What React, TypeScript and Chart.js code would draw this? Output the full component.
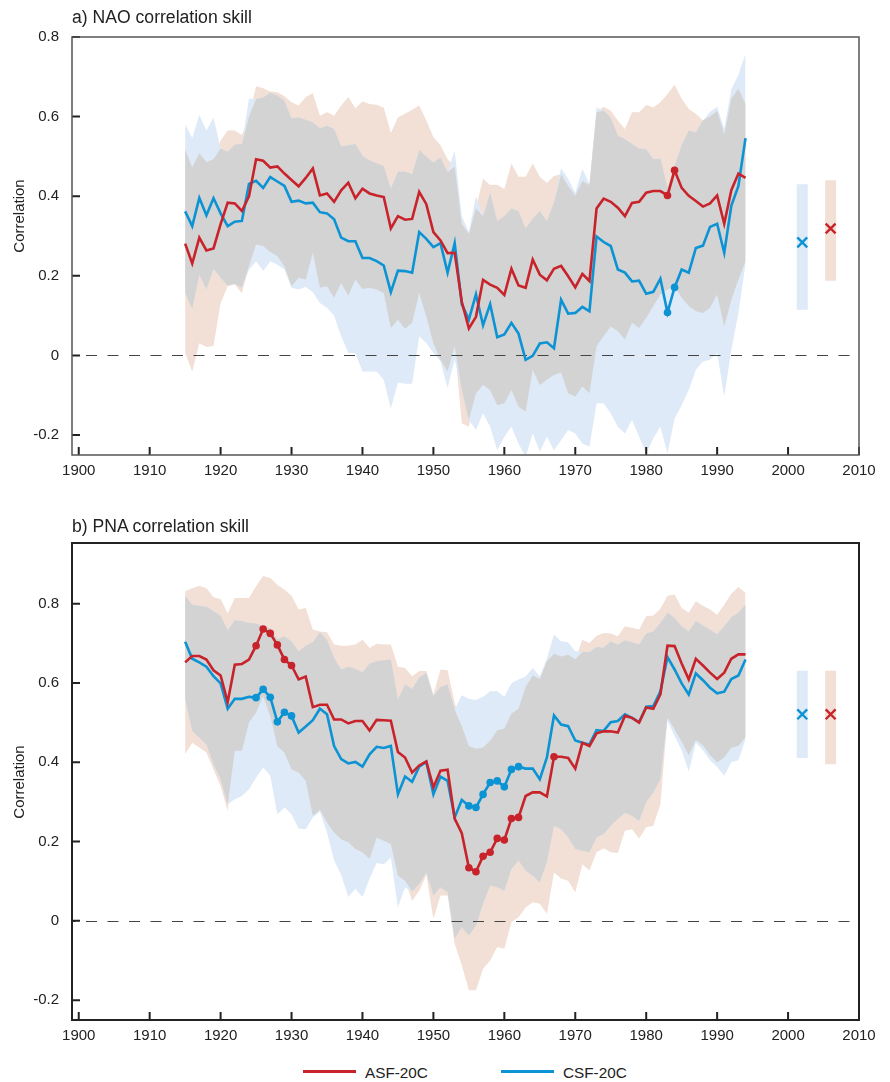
import React, { useEffect, useRef } from 'react';
import { Chart, registerables } from 'chart.js';

Chart.register(...registerables);

const FONT = '"Liberation Sans", Arial, Helvetica, sans-serif';
Chart.defaults.font.family = FONT;

// ---------------- DATA ----------------
const years = [
  1915, 1916, 1917, 1918, 1919, 1920, 1921, 1922, 1923, 1924,
  1925, 1926, 1927, 1928, 1929, 1930, 1931, 1932, 1933, 1934,
  1935, 1936, 1937, 1938, 1939, 1940, 1941, 1942, 1943, 1944,
  1945, 1946, 1947, 1948, 1949, 1950, 1951, 1952, 1953, 1954,
  1955, 1956, 1957, 1958, 1959, 1960, 1961, 1962, 1963, 1964,
  1965, 1966, 1967, 1968, 1969, 1970, 1971, 1972, 1973, 1974,
  1975, 1976, 1977, 1978, 1979, 1980, 1981, 1982, 1983, 1984,
  1985, 1986, 1987, 1988, 1989, 1990, 1991, 1992, 1993, 1994,
];

const xTicks = [1900, 1910, 1920, 1930, 1940, 1950, 1960, 1970, 1980, 1990, 2000, 2010];
const yTicks = [-0.2, 0, 0.2, 0.4, 0.6, 0.8];

// a) NAO
const naoAsf = [
  0.281, 0.231, 0.296, 0.264, 0.269, 0.330, 0.384, 0.382, 0.363, 0.400,
  0.493, 0.489, 0.472, 0.475, 0.457, 0.441, 0.425, 0.446, 0.470, 0.402,
  0.407, 0.386, 0.415, 0.434, 0.395, 0.419, 0.407, 0.402, 0.398, 0.319,
  0.350, 0.341, 0.343, 0.411, 0.380, 0.310, 0.289, 0.257, 0.258, 0.135,
  0.068, 0.097, 0.190, 0.178, 0.170, 0.152, 0.218, 0.176, 0.170, 0.241,
  0.203, 0.189, 0.218, 0.225, 0.199, 0.171, 0.205, 0.187, 0.369, 0.394,
  0.386, 0.371, 0.350, 0.383, 0.386, 0.409, 0.413, 0.413, 0.402, 0.465,
  0.421, 0.401, 0.388, 0.374, 0.382, 0.402, 0.331, 0.415, 0.457, 0.446,
];
const naoCsf = [
  0.362, 0.325, 0.396, 0.352, 0.395, 0.357, 0.325, 0.336, 0.338, 0.431,
  0.439, 0.421, 0.448, 0.437, 0.426, 0.386, 0.389, 0.382, 0.384, 0.360,
  0.357, 0.342, 0.296, 0.287, 0.287, 0.245, 0.245, 0.237, 0.226, 0.159,
  0.213, 0.212, 0.208, 0.310, 0.293, 0.272, 0.282, 0.208, 0.282, 0.129,
  0.090, 0.154, 0.076, 0.129, 0.046, 0.053, 0.082, 0.055, -0.011, -0.001,
  0.030, 0.033, 0.018, 0.140, 0.105, 0.107, 0.122, 0.111, 0.299, 0.285,
  0.275, 0.216, 0.208, 0.186, 0.188, 0.155, 0.160, 0.193, 0.108, 0.171,
  0.216, 0.208, 0.270, 0.276, 0.323, 0.331, 0.258, 0.376, 0.426, 0.546,
];
const naoAsfUpper = [
  0.518, 0.472, 0.508, 0.486, 0.493, 0.540, 0.565, 0.565, 0.554, 0.600,
  0.676, 0.671, 0.663, 0.661, 0.651, 0.636, 0.628, 0.649, 0.659, 0.602,
  0.611, 0.602, 0.628, 0.649, 0.621, 0.638, 0.632, 0.630, 0.622, 0.559,
  0.598, 0.607, 0.617, 0.628, 0.590, 0.548, 0.528, 0.493, 0.475, 0.330,
  0.305, 0.370, 0.444, 0.428, 0.429, 0.418, 0.482, 0.449, 0.449, 0.482,
  0.449, 0.433, 0.451, 0.455, 0.426, 0.401, 0.438, 0.428, 0.611, 0.625,
  0.615, 0.590, 0.569, 0.611, 0.611, 0.629, 0.623, 0.636, 0.657, 0.680,
  0.645, 0.619, 0.607, 0.590, 0.600, 0.615, 0.555, 0.645, 0.670, 0.632,
];
const naoAsfLower = [
  0.006, -0.040, 0.031, 0.021, 0.024, 0.132, 0.174, 0.178, 0.156, 0.224,
  0.279, 0.275, 0.260, 0.250, 0.224, 0.174, 0.195, 0.191, 0.258, 0.170,
  0.174, 0.145, 0.182, 0.150, 0.191, 0.167, 0.170, 0.166, 0.157, 0.069,
  0.090, 0.067, 0.082, 0.157, 0.098, 0.031, -0.011, -0.040, 0.023, -0.170,
  -0.179, -0.095, -0.074, -0.087, -0.125, -0.120, -0.087, -0.129, -0.141, -0.036,
  -0.074, -0.061, -0.049, -0.043, -0.095, -0.103, -0.078, -0.095, 0.023, 0.048,
  0.073, 0.061, 0.040, 0.082, 0.069, 0.094, 0.124, 0.153, 0.166, 0.174,
  0.145, 0.124, 0.111, 0.107, 0.120, 0.153, 0.073, 0.140, 0.191, 0.236,
];
const naoCsfUpper = [
  0.581, 0.546, 0.604, 0.565, 0.598, 0.520, 0.512, 0.530, 0.531, 0.645,
  0.644, 0.648, 0.660, 0.653, 0.640, 0.596, 0.598, 0.592, 0.586, 0.571,
  0.577, 0.569, 0.525, 0.528, 0.531, 0.502, 0.490, 0.483, 0.476, 0.419,
  0.462, 0.462, 0.455, 0.516, 0.499, 0.485, 0.497, 0.460, 0.514, 0.350,
  0.310, 0.400, 0.350, 0.409, 0.338, 0.350, 0.370, 0.363, 0.319, 0.344,
  0.363, 0.338, 0.384, 0.470, 0.443, 0.409, 0.469, 0.430, 0.623, 0.615,
  0.598, 0.552, 0.544, 0.531, 0.520, 0.518, 0.493, 0.495, 0.422, 0.476,
  0.529, 0.565, 0.560, 0.590, 0.612, 0.625, 0.570, 0.668, 0.705, 0.758,
];
const naoCsfLower = [
  0.157, 0.117, 0.203, 0.166, 0.218, 0.195, 0.176, 0.180, 0.170, 0.215,
  0.237, 0.212, 0.237, 0.228, 0.216, 0.170, 0.166, 0.172, 0.159, 0.132,
  0.120, 0.100, 0.048, 0.006, 0.006, -0.040, -0.040, -0.040, -0.061, -0.133,
  -0.068, -0.071, -0.071, 0.048, 0.031, 0.006, -0.015, -0.082, -0.010, -0.087,
  -0.162, -0.187, -0.145, -0.179, -0.238, -0.204, -0.179, -0.221, -0.255, -0.196,
  -0.242, -0.204, -0.238, -0.213, -0.187, -0.196, -0.221, -0.229, -0.120, -0.120,
  -0.145, -0.179, -0.196, -0.162, -0.204, -0.246, -0.208, -0.179, -0.246, -0.158,
  -0.125, -0.087, -0.036, -0.015, -0.011, 0.006, -0.103, 0.014, 0.107, 0.230,
];
const naoAsfSignificant = [1983, 1984];
const naoCsfSignificant = [1983, 1984];

// b) PNA
const pnaAsf = [
  0.652, 0.668, 0.668, 0.659, 0.632, 0.619, 0.552, 0.646, 0.648, 0.659,
  0.694, 0.736, 0.725, 0.696, 0.659, 0.644, 0.609, 0.616, 0.539, 0.545,
  0.545, 0.508, 0.508, 0.498, 0.504, 0.504, 0.480, 0.507, 0.506, 0.505,
  0.426, 0.412, 0.374, 0.392, 0.402, 0.337, 0.379, 0.381, 0.258, 0.221,
  0.134, 0.124, 0.163, 0.173, 0.208, 0.204, 0.258, 0.261, 0.315, 0.324,
  0.324, 0.314, 0.414, 0.414, 0.411, 0.384, 0.449, 0.441, 0.473, 0.478,
  0.478, 0.475, 0.517, 0.512, 0.500, 0.538, 0.535, 0.571, 0.694, 0.693,
  0.649, 0.609, 0.661, 0.644, 0.626, 0.610, 0.626, 0.661, 0.672, 0.672,
];
const pnaCsf = [
  0.704, 0.661, 0.652, 0.641, 0.617, 0.599, 0.535, 0.560, 0.560, 0.565,
  0.563, 0.584, 0.564, 0.502, 0.526, 0.517, 0.475, 0.490, 0.506, 0.535,
  0.521, 0.441, 0.408, 0.397, 0.401, 0.389, 0.420, 0.439, 0.436, 0.441,
  0.319, 0.364, 0.351, 0.389, 0.401, 0.319, 0.364, 0.353, 0.261, 0.305,
  0.290, 0.286, 0.319, 0.349, 0.353, 0.338, 0.382, 0.389, 0.384, 0.384,
  0.357, 0.412, 0.518, 0.495, 0.491, 0.455, 0.449, 0.445, 0.481, 0.479,
  0.501, 0.504, 0.521, 0.512, 0.501, 0.540, 0.542, 0.579, 0.665, 0.634,
  0.599, 0.571, 0.624, 0.607, 0.588, 0.574, 0.578, 0.610, 0.619, 0.659,
];
const pnaAsfUpper = [
  0.831, 0.839, 0.845, 0.839, 0.816, 0.812, 0.775, 0.814, 0.814, 0.814,
  0.844, 0.870, 0.865, 0.848, 0.835, 0.820, 0.785, 0.789, 0.735, 0.730,
  0.728, 0.697, 0.694, 0.694, 0.697, 0.709, 0.688, 0.699, 0.697, 0.697,
  0.641, 0.638, 0.617, 0.630, 0.630, 0.570, 0.634, 0.632, 0.550, 0.491,
  0.441, 0.434, 0.437, 0.454, 0.481, 0.485, 0.523, 0.535, 0.590, 0.619,
  0.610, 0.655, 0.674, 0.667, 0.671, 0.660, 0.709, 0.701, 0.719, 0.726,
  0.725, 0.718, 0.743, 0.739, 0.735, 0.768, 0.770, 0.787, 0.820, 0.823,
  0.789, 0.777, 0.806, 0.795, 0.785, 0.772, 0.797, 0.825, 0.842, 0.827,
];
const pnaAsfLower = [
  0.420, 0.449, 0.437, 0.424, 0.382, 0.340, 0.278, 0.429, 0.429, 0.500,
  0.525, 0.567, 0.517, 0.441, 0.424, 0.382, 0.374, 0.353, 0.265, 0.280,
  0.248, 0.223, 0.206, 0.198, 0.181, 0.173, 0.156, 0.210, 0.202, 0.194,
  0.114, 0.101, 0.051, 0.076, 0.116, 0.005, 0.064, 0.064, -0.058, -0.112,
  -0.175, -0.175, -0.121, -0.100, -0.066, -0.070, -0.003, 0.009, 0.034, 0.047,
  0.043, 0.018, 0.122, 0.107, 0.101, 0.072, 0.143, 0.127, 0.173, 0.183,
  0.173, 0.171, 0.227, 0.231, 0.208, 0.236, 0.240, 0.294, 0.512, 0.483,
  0.452, 0.418, 0.456, 0.443, 0.418, 0.400, 0.412, 0.437, 0.441, 0.463,
];
const pnaCsfUpper = [
  0.820, 0.797, 0.795, 0.792, 0.781, 0.770, 0.733, 0.758, 0.756, 0.751,
  0.750, 0.743, 0.738, 0.711, 0.718, 0.705, 0.680, 0.694, 0.703, 0.728,
  0.709, 0.663, 0.634, 0.641, 0.636, 0.627, 0.649, 0.655, 0.657, 0.659,
  0.558, 0.596, 0.585, 0.613, 0.626, 0.567, 0.590, 0.596, 0.533, 0.569,
  0.560, 0.557, 0.565, 0.579, 0.579, 0.565, 0.599, 0.609, 0.616, 0.638,
  0.616, 0.662, 0.722, 0.705, 0.703, 0.680, 0.678, 0.678, 0.691, 0.689,
  0.705, 0.697, 0.708, 0.703, 0.697, 0.725, 0.730, 0.751, 0.778, 0.764,
  0.743, 0.730, 0.756, 0.745, 0.735, 0.722, 0.743, 0.766, 0.778, 0.797,
];
const pnaCsfLower = [
  0.558, 0.479, 0.462, 0.445, 0.395, 0.357, 0.294, 0.307, 0.315, 0.332,
  0.361, 0.387, 0.366, 0.269, 0.286, 0.269, 0.233, 0.231, 0.261, 0.275,
  0.223, 0.152, 0.116, 0.060, 0.081, 0.060, 0.106, 0.146, 0.143, 0.160,
  0.034, 0.085, 0.074, 0.093, 0.122, 0.064, 0.085, 0.072, -0.045, -0.016,
  -0.037, -0.012, 0.043, 0.089, 0.085, 0.076, 0.131, 0.152, 0.127, 0.114,
  0.097, 0.148, 0.240, 0.231, 0.210, 0.181, 0.177, 0.173, 0.210, 0.219,
  0.240, 0.257, 0.273, 0.265, 0.252, 0.299, 0.324, 0.357, 0.505, 0.466,
  0.430, 0.376, 0.449, 0.430, 0.405, 0.388, 0.366, 0.400, 0.405, 0.458,
];
const pnaAsfSignificant = [1925, 1926, 1927, 1928, 1929, 1930, 1955, 1956, 1957, 1958, 1959, 1960, 1961, 1962, 1967];
const pnaCsfSignificant = [1925, 1926, 1927, 1928, 1929, 1930, 1955, 1956, 1957, 1958, 1959, 1960, 1961, 1962];

// Recent-period skill (x position, [CSF, ASF])
const recentYears = [2002, 2006];
const naoRecentMean = [0.284, 0.319];
const naoRecentLow = [0.115, 0.188];
const naoRecentHigh = [0.430, 0.440];
const pnaRecentMean = [0.521, 0.521];
const pnaRecentLow = [0.411, 0.395];
const pnaRecentHigh = [0.631, 0.631];

// ---------------- STYLE ----------------
const RED = '#c8232b';
const BLUE = '#0b93d4';
const PEACH = '#f2dfd5';
const LBLUE = '#deeaf7';
const GRAY = '#d3d3d3';
const TEXT = '#222';

type PanelSpec = {
  asf: number[]; csf: number[];
  asfUp: number[]; asfLo: number[]; csfUp: number[]; csfLo: number[];
  asfSig: number[]; csfSig: number[];
  rMean: number[]; rLow: number[]; rHigh: number[];
  yMax: number; padTop: number; xAxisH: number;
  frameColor: string; frameWidth: number;
};

const framePlugin = {
  id: 'frame',
  beforeDatasetDraw(chart: any, args: any, opts: any) {
    if (args.index !== opts.zeroBefore) return;
    const { ctx, chartArea: a, scales } = chart;
    const y0 = Math.round(scales.y.getPixelForValue(0)) + 0.5;
    ctx.save();
    ctx.strokeStyle = '#444';
    ctx.lineWidth = 1.2;
    ctx.setLineDash([11, 10.5]);
    ctx.lineDashOffset = 7.5;
    ctx.beginPath();
    ctx.moveTo(a.left, y0);
    ctx.lineTo(a.right, y0);
    ctx.stroke();
    ctx.restore();
  },
  afterDraw(chart: any, _args: any, opts: any) {
    const { ctx, chartArea: a, scales } = chart;
    ctx.save();
    ctx.strokeStyle = TEXT;
    ctx.lineWidth = 2;
    ctx.beginPath();
    scales.y.ticks.forEach((t: any) => {
      const py = scales.y.getPixelForValue(t.value);
      ctx.moveTo(a.left, py);
      ctx.lineTo(a.left + 8, py);
    });
    scales.x.ticks.forEach((t: any) => {
      const px = scales.x.getPixelForValue(t.value);
      ctx.moveTo(px, a.bottom);
      ctx.lineTo(px, a.bottom - 8);
    });
    ctx.stroke();
    ctx.strokeStyle = opts.color;
    ctx.lineWidth = opts.width;
    ctx.strokeRect(a.left, a.top, a.right - a.left, a.bottom - a.top);
    ctx.restore();
  },
};

function buildConfig(p: PanelSpec): any {
  const pts = (arr: number[]) => years.map((yr, i) => ({ x: yr, y: arr[i] }));
  const ovLo = years.map((_, i) => Math.max(p.asfLo[i], p.csfLo[i]));
  const ovUp = years.map((_, i) => Math.max(ovLo[i], Math.min(p.asfUp[i], p.csfUp[i])));
  const band = (data: any[], color: string, order: number, fill: any) => ({
    data, borderWidth: 0, borderColor: 'rgba(0,0,0,0)', pointRadius: 0,
    backgroundColor: color, fill, order, tension: 0,
  });
  const line = (arr: number[], color: string, sig: number[], order: number) => ({
    data: pts(arr), borderColor: color, backgroundColor: color, borderWidth: 2.6,
    fill: false, tension: 0, order,
    pointRadius: (c: any) => (sig.includes(years[c.dataIndex]) ? 3.8 : 0),
    pointBackgroundColor: color, pointBorderWidth: 0,
  });
  const bar = (k: number, color: string) => ({
    data: [{ x: recentYears[k], y: p.rLow[k] }, { x: recentYears[k], y: p.rHigh[k] }],
    borderColor: color, borderWidth: 11, borderCapStyle: 'butt', pointRadius: 0,
    fill: false, order: 5,
  });
  const cross = (k: number, color: string) => ({
    data: [{ x: recentYears[k], y: p.rMean[k] }], showLine: false,
    pointStyle: 'crossRot', pointRadius: 7, pointBorderColor: color,
    pointBackgroundColor: color, pointBorderWidth: 2.4, order: 0,
  });
  const datasets = [
    band(pts(p.asfLo), PEACH, 30, false),
    band(pts(p.asfUp), PEACH, 30, '-1'),
    band(pts(p.csfLo), LBLUE, 20, false),
    band(pts(p.csfUp), LBLUE, 20, '-1'),
    band(pts(ovLo), GRAY, 10, false),
    band(pts(ovUp), GRAY, 10, '-1'),
    bar(0, LBLUE),
    bar(1, PEACH),
    line(p.asf, RED, p.asfSig, 1),
    line(p.csf, BLUE, p.csfSig, 2),
    cross(0, BLUE),
    cross(1, RED),
  ];
  return {
    type: 'line',
    data: { datasets },
    plugins: [framePlugin],
    options: {
      responsive: false,
      maintainAspectRatio: false,
      animation: false,
      events: [],
      layout: { padding: { top: p.padTop, right: 31, left: 0, bottom: 0 } },
      plugins: {
        legend: { display: false },
        tooltip: { enabled: false },
        title: { display: false },
        frame: { color: p.frameColor, width: p.frameWidth, zeroBefore: 9 },
      },
      scales: {
        x: {
          type: 'linear', min: 1899.05, max: 2010,
          grid: { display: false, drawTicks: false }, border: { display: false },
          ticks: {
            font: { size: 15, family: FONT }, color: TEXT, padding: 7,
            autoSkip: false, maxRotation: 0, callback: (v: any) => String(v),
          },
          afterBuildTicks: (s: any) => { s.ticks = xTicks.map((v) => ({ value: v })); },
          afterFit: (s: any) => { s.height = p.xAxisH; },
        },
        y: {
          type: 'linear', min: -0.25, max: p.yMax,
          grid: { display: false, drawTicks: false }, border: { display: false },
          ticks: {
            font: { size: 15, family: FONT }, color: TEXT, padding: 13,
            callback: (v: any) => (Math.abs(v) < 1e-9 ? '0' : Number(v).toFixed(1)),
          },
          afterBuildTicks: (s: any) => { s.ticks = yTicks.map((v) => ({ value: v })); },
          afterFit: (s: any) => { s.width = 72; },
        },
      },
    },
  };
}

function Panel({ spec, top, height }: { spec: PanelSpec; top: number; height: number }) {
  const ref = useRef<HTMLCanvasElement | null>(null);
  useEffect(() => {
    if (!ref.current) return;
    const chart = new Chart(ref.current, buildConfig(spec));
    return () => chart.destroy();
  }, []);
  return (
    <canvas
      ref={ref}
      width={890}
      height={height}
      style={{ position: 'absolute', left: 0, top, width: 890, height }}
    />
  );
}

const naoSpec: PanelSpec = {
  asf: naoAsf, csf: naoCsf, asfUp: naoAsfUpper, asfLo: naoAsfLower,
  csfUp: naoCsfUpper, csfLo: naoCsfLower, asfSig: naoAsfSignificant, csfSig: naoCsfSignificant,
  rMean: naoRecentMean, rLow: naoRecentLow, rHigh: naoRecentHigh,
  yMax: 0.8, padTop: 37, xAxisH: 45, frameColor: '#555', frameWidth: 1.5,
};
const pnaSpec: PanelSpec = {
  asf: pnaAsf, csf: pnaCsf, asfUp: pnaAsfUpper, asfLo: pnaAsfLower,
  csfUp: pnaCsfUpper, csfLo: pnaCsfLower, asfSig: pnaAsfSignificant, csfSig: pnaCsfSignificant,
  rMean: pnaRecentMean, rLow: pnaRecentLow, rHigh: pnaRecentHigh,
  yMax: 0.953, padTop: 43, xAxisH: 30, frameColor: '#222', frameWidth: 2,
};

const label = (text: string, left: number, top: number, size: number) => (
  <div style={{ position: 'absolute', left, top, fontSize: size, lineHeight: `${size}px`, color: TEXT, whiteSpace: 'nowrap' }}>
    {text}
  </div>
);

const yTitle = (top: number) => (
  <div
    style={{
      position: 'absolute', left: 18, top, fontSize: 15, lineHeight: '15px', color: TEXT,
      whiteSpace: 'nowrap', transform: 'translate(-50%, -50%) rotate(-90deg)',
    }}
  >
    Correlation
  </div>
);

export default function App() {
  return (
    <div style={{ position: 'absolute', left: 0, top: 0, width: 890, height: 1082, background: '#fff', fontFamily: FONT, overflow: 'hidden' }}>
      <Panel spec={naoSpec} top={0} height={500} />
      <Panel spec={pnaSpec} top={500} height={550} />
      {label('a) NAO correlation skill', 72, 9, 17.6)}
      {label('b) PNA correlation skill', 72, 518, 17.6)}
      {yTitle(216)}
      {yTitle(782)}
      <div style={{ position: 'absolute', left: 303, top: 1070, width: 53, height: 3, background: RED }} />
      {label('ASF-20C', 365, 1065, 15.3)}
      <div style={{ position: 'absolute', left: 501, top: 1070, width: 53, height: 3, background: BLUE }} />
      {label('CSF-20C', 563, 1065, 15.3)}
    </div>
  );
}
